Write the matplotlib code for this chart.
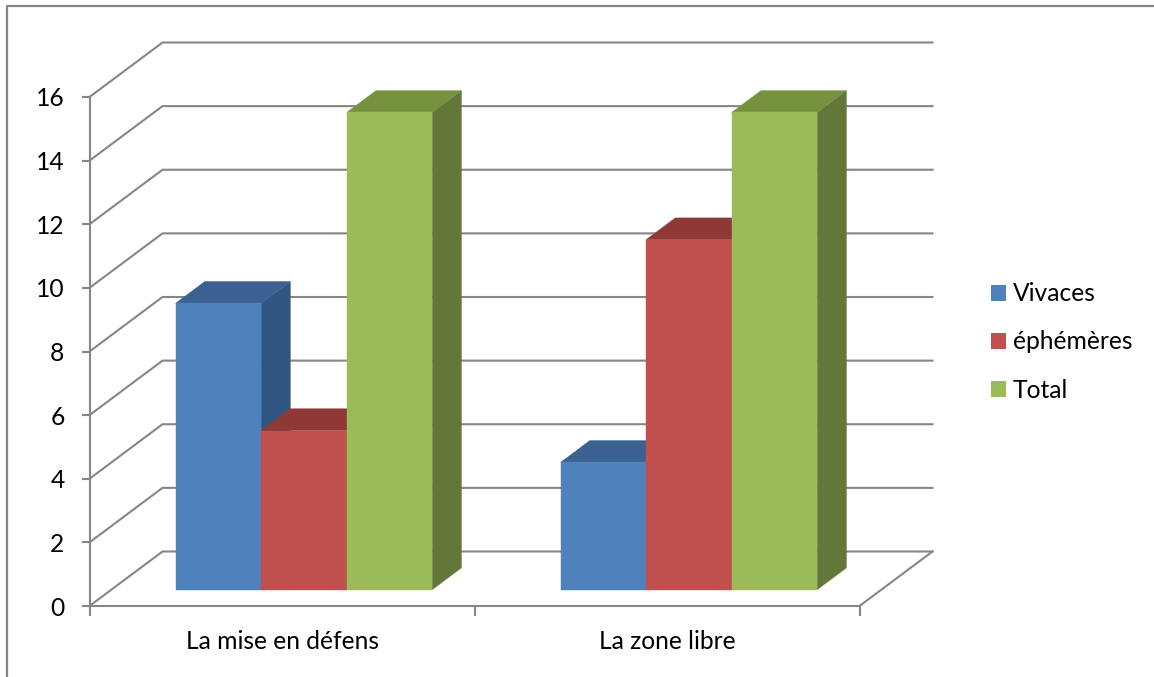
# Histogramme 3D (style tableur) : richesse par groupe et par zone
import matplotlib
matplotlib.use("Agg")
import matplotlib.pyplot as plt
from matplotlib.lines import Line2D
from matplotlib.patches import Patch, Polygon

plt.rcParams['font.family'] = ['Lato', 'DejaVu Sans']

# Données
categories = ['La mise en défens', 'La zone libre']
series_names = ['Vivaces', 'éphémères', 'Total']
vivaces = [9, 4]
ephemeres = [5, 11]
total = [15, 15]
yticks = [0, 2, 4, 6, 8, 10, 12, 14, 16]

front_colors = ['#4F81BD', '#C0504D', '#9BBB59']
top_colors = ['#3A6191', '#8F3836', '#76923F']
side_colors = ['#325682', '#7F3230', '#64773A']
line_color = '#868686'
text_size = 17.7

W, H = 1154, 677
fig = plt.figure(figsize=(W / 100, H / 100), dpi=100)
# Le plan avant du graphique : x de 89 à 859 px, y de 606 à 97 px
ax = fig.add_axes([89.5 / W, 1 - 606 / H, 770 / W, 509 / H])
ax.set_xlim(0, len(categories))
ax.set_ylim(0, 16)

# Décalage oblique de la profondeur, en unités de données
depth_x = 73 / 385
depth_y = 54.5 / (509 / 16)


def project(x, y, d):
    """Passe d'un point (x, valeur, profondeur 0..1) au plan avant."""
    return (x + d * depth_x, y + d * depth_y)


# Parois du fond et plancher
for val in yticks:
    pts = [project(0, val, 0), project(0, val, 1), project(len(categories), val, 1)]
    ax.plot(*zip(*pts), color=line_color, lw=1.5, clip_on=False, zorder=1,
            solid_joinstyle='miter')
ax.plot(*zip(project(2, 0, 0), project(2, 0, 1)), color=line_color, lw=1.5,
        clip_on=False, zorder=1)


def draw_bar(x, width, value, i):
    d0, d1 = 0.30, 0.70
    a = project(x, 0, d0)
    b = project(x + width, 0, d0)
    c = project(x + width, value, d0)
    e = project(x, value, d0)
    f = project(x, value, d1)
    g = project(x + width, value, d1)
    h = project(x + width, 0, d1)
    # un filet de la même couleur évite les jours entre les faces
    ax.add_patch(Polygon([b, h, g, c], fc=side_colors[i], ec=side_colors[i], lw=0.3,
                         clip_on=False, zorder=3))
    ax.add_patch(Polygon([e, c, g, f], fc=top_colors[i], ec=top_colors[i], lw=0.3,
                         clip_on=False, zorder=3))
    ax.add_patch(Polygon([a, b, c, e], fc=front_colors[i], ec=front_colors[i], lw=0.3,
                         clip_on=False, zorder=3))


# Largeur de barre pour un espacement de 150 %
bar_w = 1 / 4.5
for k in range(len(categories)):
    for i, values in enumerate([vivaces, ephemeres, total]):
        draw_bar(k + 0.75 * bar_w + i * bar_w, bar_w, values[k], i)

# Axes
for name in ['top', 'right']:
    ax.spines[name].set_visible(False)
for name in ['left', 'bottom']:
    ax.spines[name].set_color(line_color)
    ax.spines[name].set_linewidth(1.5)
ax.patch.set_visible(False)
ax.set_yticks(yticks)
ax.set_xticks(range(len(categories) + 1))
ax.set_xticklabels([])
ax.set_xticks([k + 0.5 for k in range(len(categories))], categories, minor=True)
ax.tick_params(axis='y', length=6, width=1.5, color=line_color, pad=12, labelsize=text_size,
               labelcolor='black')
ax.tick_params(axis='x', which='major', length=7.5, width=1.5, color=line_color)
ax.tick_params(axis='x', which='minor', length=0, pad=17, labelsize=text_size, labelcolor='black')

# Légende
handles = [Patch(fc=c, ec='none', label=n) for c, n in zip(front_colors, series_names)]
fig.legend(handles=handles, loc='center left', bbox_to_anchor=(991 / W, 1 - 342 / H),
           frameon=False, fontsize=text_size, handlelength=0.61, handleheight=0.61,
           handletextpad=0.28, labelspacing=1.02, borderaxespad=0, borderpad=0,
           labelcolor='black')

# Cadre extérieur, seuls les bords haut et gauche sont visibles
fig.add_artist(Line2D([7 / W, 7 / W, 1], [0, 1 - 5.5 / H, 1 - 5.5 / H],
                      color=line_color, lw=1.6, transform=fig.transFigure))

fig.savefig('out.png', dpi=100)
